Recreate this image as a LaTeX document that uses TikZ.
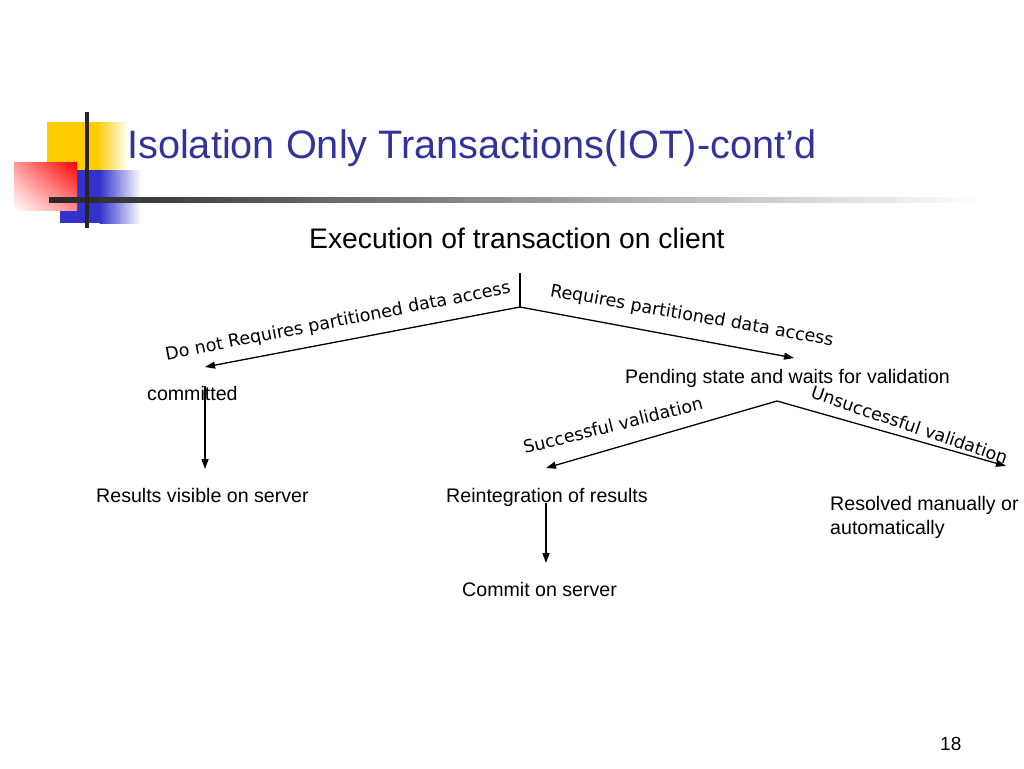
\documentclass[tikz,border=0pt]{standalone}
\usepackage{fontspec}
\setmainfont{Liberation Sans}
\newfontfamily\vfont{DejaVu Sans}
\usetikzlibrary{arrows.meta,shadings}
\definecolor{titleblue}{RGB}{51,51,153}
\definecolor{logoyellow}{RGB}{255,204,0}
\definecolor{logoblue}{RGB}{51,51,204}
\definecolor{logored}{RGB}{255,0,0}
\definecolor{pinkA}{RGB}{255,150,150}
\definecolor{pinkB}{RGB}{255,140,140}
\tikzset{
  txt/.style={inner sep=0pt, anchor=base west, font=\fontsize{19.6}{24}\selectfont},
  lbl/.style={inner sep=0pt, anchor=base, font=\vfont\fontsize{17.5}{21}\selectfont},
  conn/.style={line width=1.3pt},
  arr/.style={conn, -{Triangle[length=10pt,width=7pt]}},
}
\begin{document}
\begin{tikzpicture}[x=1pt,y=-1pt]
\useasboundingbox[fill=white] (0,0) rectangle (1024,768);
% logo
\fill[logoyellow] (47,122) rectangle (97,186);
\shade[left color=logoyellow, right color=white] (96.5,122) rectangle (128,186);
\fill[logoblue] (60,170) rectangle (100,223);
\shade[left color=logoblue, right color=white] (99.5,170) rectangle (141,223);
\shade[upper right=logored, upper left=pinkA, lower right=pinkB, lower left=white]
  (14,162) rectangle (77,210);
\shade[left color=black!85, right color=white] (49,197.5) rectangle (980,202.5);
\fill[black!85] (85,112) rectangle (89,228);
% title
\node[inner sep=0pt, anchor=base west, text=titleblue, font=\fontsize{39.7}{46}\selectfont] (title) at (127,158) {Isolation Only Transactions(IOT)-cont’d};
\node[inner sep=0pt, anchor=base west, font=\fontsize{28.3}{33}\selectfont] (exec) at (309,248) {Execution of transaction on client};
% coordinates
\coordinate (rtop) at (520,273);
\coordinate (r) at (520,307);
\coordinate (lend) at (205,367);
\coordinate (rend) at (794,358);
\coordinate (p) at (777,401);
\coordinate (send) at (546,468);
\coordinate (uend) at (1006,466);
% nodes
\node[txt] (committed) at (147,400) {committed};
\node[txt] (results) at (96,502) {Results visible on server};
\node[txt] (pending) at (625,383) {Pending state and waits for validation};
\node[txt] (reint) at (446,502) {Reintegration of results};
\node[txt] (commit) at (462,596) {Commit on server};
\node[txt, align=left] (resolved) at (830,534) {Resolved manually or\\automatically};
\node[inner sep=0pt, anchor=base west, font=\fontsize{19}{22}\selectfont] (page) at (940,750) {18};
% connectors
\draw[conn] (rtop) -- (r);
\draw[arr] (r) -- (lend);
\draw[arr] (r) -- (rend);
\draw[arr] (p) -- (send);
\draw[arr] (p) -- (uend);
\coordinate (ca) at (205,386);
\coordinate (cb) at (205,469);
\draw[arr] (ca) -- (cb);
\coordinate (ra) at (546,503);
\coordinate (rb) at (546,563);
\draw[arr] (ra) -- (rb);
% labels
\node[lbl, rotate=11] (l1) at (339,326.5) {Do not Requires partitioned data access};
\node[lbl, rotate=-10] (l2) at (691,321) {Requires partitioned data access};
\node[lbl, rotate=14] (l3) at (614.5,431.5) {Successful validation};
\node[lbl, rotate=-18.8] (l4) at (907.5,431) {Unsuccessful validation};
\end{tikzpicture}
\end{document}
